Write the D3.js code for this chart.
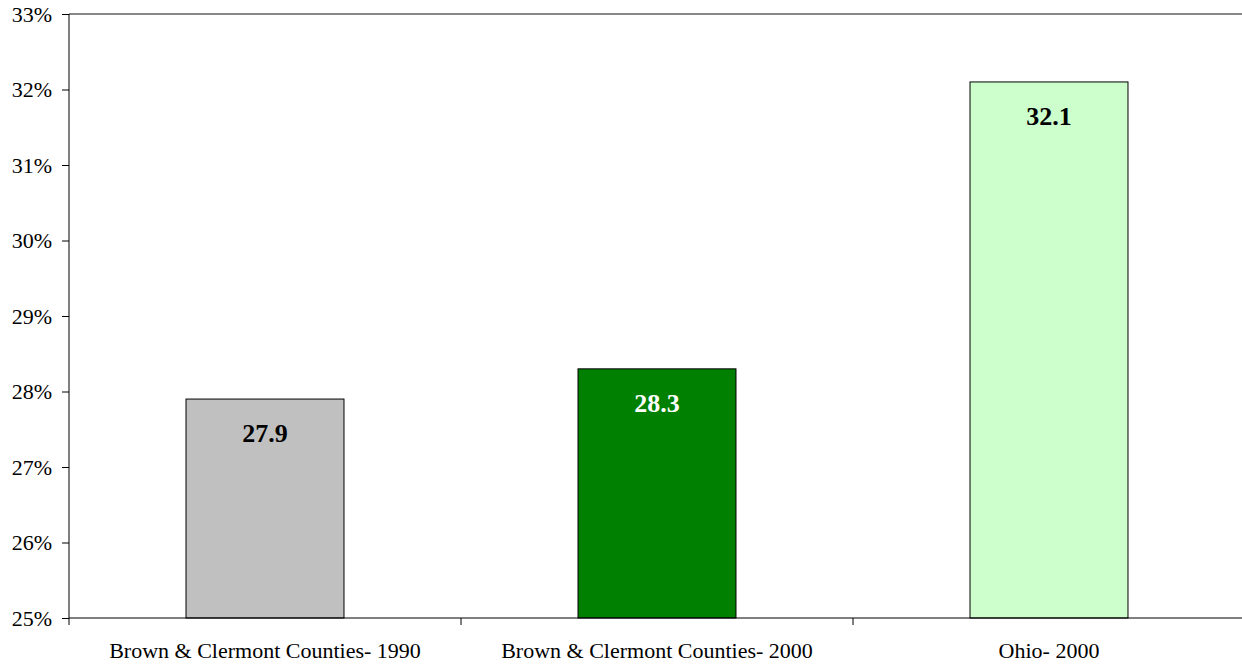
<!DOCTYPE html>
<html>
<head>
<meta charset="utf-8">
<script src="https://cdn.jsdelivr.net/npm/d3@7"></script>
<style>
html,body{margin:0;padding:0;background:#fff;}
svg{display:block;}
text{font-family:"Liberation Serif","Times New Roman",serif;}
</style>
</head>
<body>
<svg id="chart" width="1242" height="666"></svg>
<script>
const categories = ["Brown & Clermont Counties- 1990", "Brown & Clermont Counties- 2000", "Ohio- 2000"];
const values = [27.9, 28.3, 32.1];
const barColors = ["#c0c0c0", "#008000", "#ccffcc"];
const labelColors = ["#000000", "#ffffff", "#000000"];
const yTicks = [25, 26, 27, 28, 29, 30, 31, 32, 33];

(function () {
const svg = d3.select("#chart");
const pLeft = 69, pRight = 1245, pTop = 14, pBottom = 618;

const x = d3.scaleBand().domain(categories).range([pLeft, pRight]).padding(0);
const y = d3.scaleLinear().domain([25, 33]).range([pBottom, pTop]);
const barW = x.bandwidth() * 0.403;

// top border
svg.append("line").attr("x1", pLeft).attr("x2", 1242).attr("y1", y(33)).attr("y2", y(33))
  .attr("stroke", "#888").attr("stroke-width", 2);

// bars
svg.selectAll("rect.bar").data(values).join("rect")
  .attr("class", "bar")
  .attr("x", (d, i) => x(categories[i]) + x.bandwidth() / 2 - barW / 2)
  .attr("y", d => y(d))
  .attr("width", barW)
  .attr("height", d => y(25) - y(d))
  .attr("fill", (d, i) => barColors[i])
  .attr("stroke", "#000").attr("stroke-width", 1);

// value labels
svg.selectAll("text.val").data(values).join("text")
  .attr("class", "val")
  .attr("x", (d, i) => x(categories[i]) + x.bandwidth() / 2)
  .attr("y", d => y(d) + 43)
  .attr("text-anchor", "middle")
  .attr("font-weight", "bold")
  .attr("font-size", 26)
  .attr("fill", (d, i) => labelColors[i])
  .text(d => d.toFixed(1));

// y axis
const yAxis = d3.axisLeft(y).tickValues(yTicks).tickSize(7).tickPadding(10)
  .tickFormat(d => d + "%");
const gy = svg.append("g").attr("transform", `translate(${pLeft},0)`).call(yAxis);
gy.select(".domain").remove();
gy.append("line").attr("x1", 0).attr("x2", 0).attr("y1", pTop).attr("y2", pBottom).attr("stroke", "#000");
gy.selectAll(".tick line").attr("stroke", "#000");
gy.selectAll(".tick text").attr("font-size", 22).attr("fill", "#000")
  .style("font-family", '"Liberation Serif","Times New Roman",serif');

// x axis
svg.append("line").attr("x1", pLeft).attr("x2", 1242).attr("y1", pBottom).attr("y2", pBottom).attr("stroke", "#000");
const bounds = categories.map(c => x(c));
svg.selectAll("line.ctick").data(bounds).join("line")
  .attr("class", "ctick")
  .attr("x1", d => d).attr("x2", d => d)
  .attr("y1", pBottom).attr("y2", pBottom + 7)
  .attr("stroke", "#000");

svg.selectAll("text.cat").data(categories).join("text")
  .attr("class", "cat")
  .attr("x", d => x(d) + x.bandwidth() / 2)
  .attr("y", 658)
  .attr("text-anchor", "middle")
  .attr("font-size", 22)
  .attr("fill", "#000")
  .text(d => d);
})();
</script>
</body>
</html>
